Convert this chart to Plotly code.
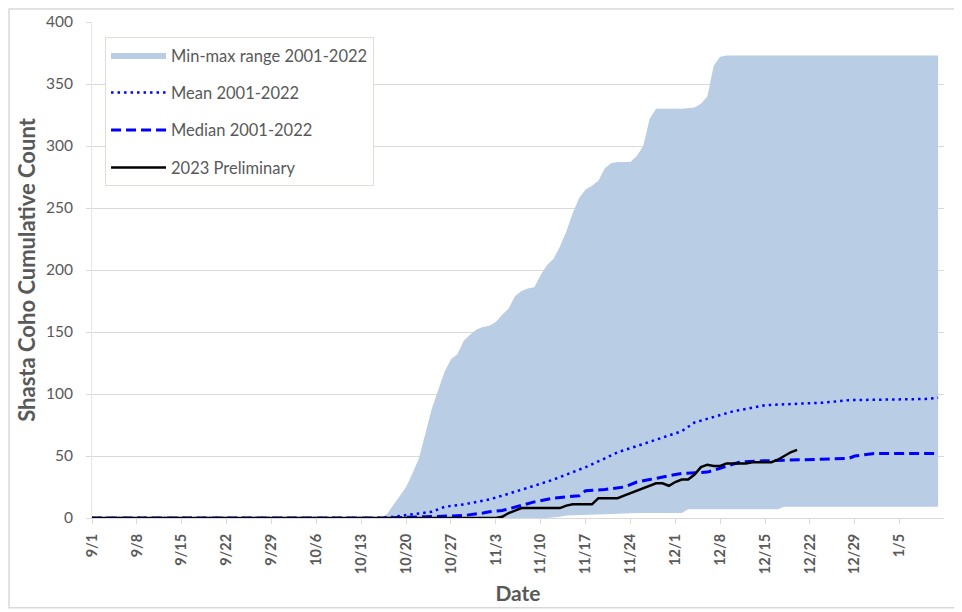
import plotly.graph_objects as go
from datetime import date

def to_dates(labels):
    out = []
    for s in labels:
        m, d = (int(v) for v in s.split("/"))
        out.append(date(2023 if m >= 9 else 2024, m, d).isoformat())
    return out

# Min-max range 2001-2022
max_days = ["9/1", "10/16", "10/17", "10/18", "10/19", "10/20", "10/21", "10/22", "10/23", "10/24",
            "10/25", "10/26", "10/27", "10/28", "10/29", "10/30", "10/31", "11/1", "11/2", "11/3",
            "11/4", "11/5", "11/6", "11/7", "11/8", "11/9", "11/10", "11/11", "11/12", "11/13",
            "11/14", "11/15", "11/16", "11/17", "11/18", "11/19", "11/20", "11/21", "11/22", "11/24",
            "11/25", "11/26", "11/27", "11/28", "12/2", "12/4", "12/5", "12/6", "12/7", "12/8",
            "12/9", "1/11"]
max_vals = [0, 0, 3, 10, 17, 25, 36, 48, 68, 88,
            103, 118, 128, 132, 143, 148, 152, 154, 155, 158,
            164, 169, 179, 183, 185, 186, 196, 204, 209, 219,
            231, 246, 258, 265, 268, 272, 282, 286, 287, 287,
            292, 300, 322, 330, 330, 331, 334, 340, 365, 372,
            373, 373]
min_days = ["9/1", "11/11", "11/13", "11/14", "11/20", "11/25", "12/2", "12/3", "12/17", "12/18", "1/11"]
min_vals = [0, 0, 1, 2, 3, 4, 4, 7, 7, 9, 9]

# Mean 2001-2022
mean_days = ["9/1", "10/16", "10/18", "10/21", "10/24", "10/26", "10/29", "10/31", "11/2", "11/4",
             "11/6", "11/9", "11/12", "11/15", "11/17", "11/20", "11/22", "11/25", "11/28", "12/2",
             "12/4", "12/6", "12/10", "12/15", "12/19", "12/24", "12/28", "1/9", "1/11"]
mean_vals = [0, 0, 1, 3, 5, 9, 11, 13, 15, 18,
             21, 26, 31, 37, 41, 48, 53, 58, 63, 70,
             77, 80, 86, 91, 92, 93, 95, 96, 97]

# Median 2001-2022
median_days = ["9/1", "10/17", "10/23", "10/29", "11/1", "11/2", "11/4", "11/6", "11/9", "11/12",
               "11/14", "11/16", "11/17", "11/20", "11/23", "11/25", "11/27", "12/2", "12/6", "12/9",
               "12/11", "12/14", "12/22", "12/28", "12/29", "1/1", "1/3", "1/11"]
median_vals = [0, 0, 1, 2, 4, 5, 6, 9, 13, 16,
               17, 18, 22, 23, 25, 29, 31, 36, 37, 42,
               45, 46, 47, 48, 50, 52, 52, 52]

# 2023 Preliminary
prelim_days = ["9/1", "11/3", "11/4", "11/5", "11/6", "11/7", "11/13", "11/14", "11/15", "11/18",
               "11/19", "11/22", "11/23", "11/24", "11/25", "11/26", "11/27", "11/28", "11/29", "11/30",
               "12/1", "12/2", "12/3", "12/4", "12/5", "12/6", "12/7", "12/8", "12/9", "12/12",
               "12/13", "12/16", "12/17", "12/18", "12/19", "12/20"]
prelim_vals = [0, 0, 1, 4, 6, 8, 8, 10, 11, 11,
               16, 16, 18, 20, 22, 24, 26, 28, 28, 26,
               29, 31, 31, 35, 41, 43, 42, 42, 44, 44,
               45, 45, 47, 50, 53, 55]

TXT = "#595959"
FONT = "Lato"

fig = go.Figure()
fig.add_trace(go.Scatter(
    x=to_dates(max_days) + to_dates(min_days)[::-1],
    y=max_vals + min_vals[::-1],
    fill="toself", fillcolor="#B9CDE5", mode="lines",
    line=dict(width=0, color="#B9CDE5"),
    name="Min-max range 2001-2022", legendgroup="a", hoverinfo="skip"))
fig.add_trace(go.Scatter(
    x=to_dates(mean_days), y=mean_vals, mode="lines",
    line=dict(color="#0000FF", width=2.5, dash="2.5px,4px"),
    name="Mean 2001-2022", legendgroup="b"))
fig.add_trace(go.Scatter(
    x=to_dates(median_days), y=median_vals, mode="lines",
    line=dict(color="#0000FF", width=3, dash="10px,5px"),
    name="Median 2001-2022", legendgroup="c"))
fig.add_trace(go.Scatter(
    x=to_dates(prelim_days), y=prelim_vals, mode="lines",
    line=dict(color="#000000", width=2.5),
    name="2023 Preliminary", legendgroup="d"))

# page body has an 8px margin, so the figure is sized/offset to compensate
fig.update_layout(
    width=954, height=604,
    margin=dict(l=84, r=18, t=14, b=94),
    paper_bgcolor="white", plot_bgcolor="white",
    font=dict(family=FONT, color=TXT, size=14),
    legend=dict(x=0.0153, y=0.97, xanchor="left", yanchor="top",
                bgcolor="white", bordercolor="#E0DDD5", borderwidth=1,
                font=dict(size=16.5, color=TXT), itemwidth=55,
                tracegroupgap=13),
    xaxis=dict(type="date", range=["2023-09-01", "2024-01-11 22:00"], automargin=False,
               tick0="2023-09-01", dtick=7 * 86400000, tickformat="%-m/%-d",
               tickangle=-90, ticks="outside", ticklen=5, tickcolor="#D9D9D9",
               showgrid=False, showline=True, linecolor="#D9D9D9", linewidth=1,
               tickfont=dict(family=FONT, size=14.5, color=TXT, weight="bold"),
               ticklabelstandoff=4,
               title=dict(text="Date", font=dict(family=FONT, size=21, color=TXT, weight="bold"),
                          standoff=13),
               zeroline=False),
    yaxis=dict(range=[0, 400], dtick=50, showgrid=True, gridcolor="#D9D9D9", gridwidth=1,
               automargin=False,
               ticks="outside", ticklen=5, tickcolor="#D9D9D9",
               showline=True, linecolor="#E6E6E6", linewidth=1, zeroline=False,
               tickfont=dict(family=FONT, size=15.5, color=TXT), ticklabelstandoff=10,
               title=dict(text="Shasta Coho Cumulative Count",
                          font=dict(family=FONT, size=22, color=TXT, weight="bold"),
                          standoff=4)),
    shapes=[dict(type="rect", xref="paper", yref="paper",
                 x0=-0.0974, x1=1.0164, y0=-0.181, y1=1.026,
                 line=dict(color="#D9D9D9", width=1.5), fillcolor="rgba(0,0,0,0)", layer="below")],
)

fig.write_html("out.html")
